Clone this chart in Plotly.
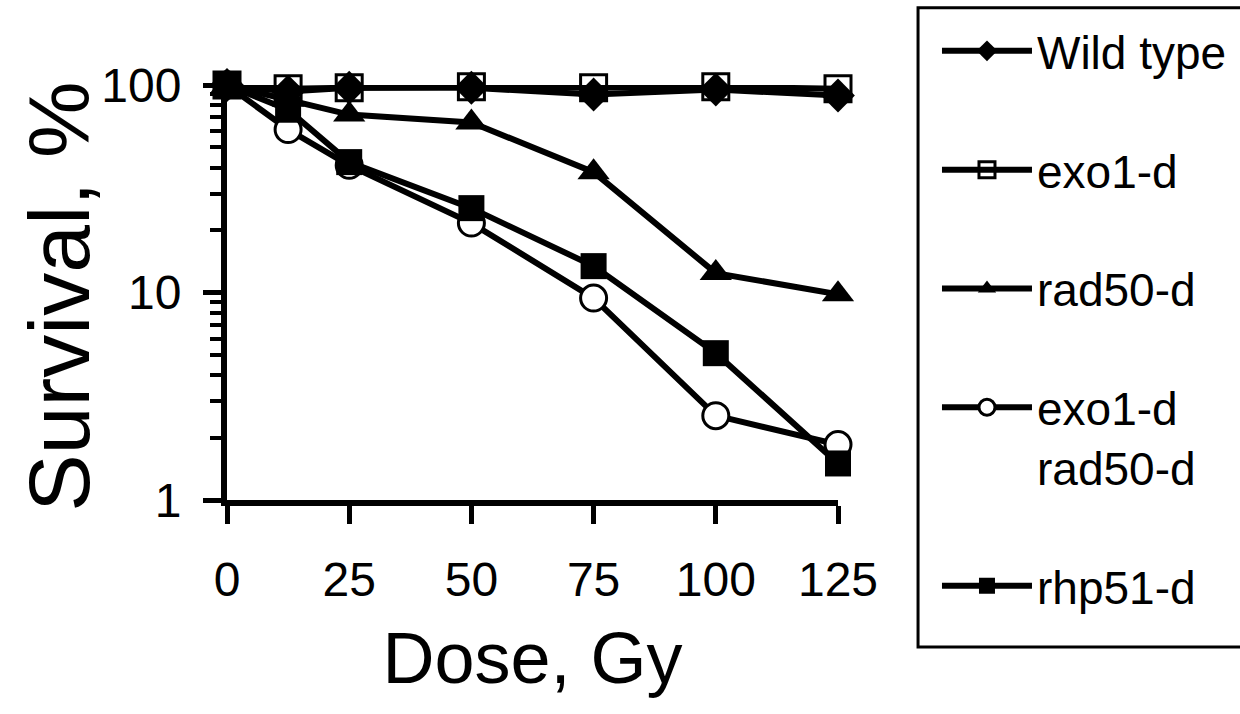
import plotly.graph_objects as go

dose = [0, 12.5, 25, 50, 75, 100, 125]
wild_type = [100, 93, 97, 97, 90, 95, 89]
exo1_d = [100, 96, 97, 98, 97, 98, 96]
rad50_d = [100, 85, 72, 66, 38, 12.4, 9.8]
exo1_rad50_d = [100, 61, 41, 21.6, 9.4, 2.55, 1.85]
rhp51_d = [100, 76, 42.5, 25.5, 13.4, 5.1, 1.5]

x_ticks = [0, 25, 50, 75, 100, 125]
y_ticks = [1, 10, 100]
y_tick_text = ["1", "10", "100"]
y_minor_ticks = [2, 3, 4, 5, 6, 7, 8, 9, 20, 30, 40, 50, 60, 70, 80, 90]

FONT = "Liberation Sans, Arial, sans-serif"

series = [
    ("Wild type", wild_type, dict(symbol="diamond", size=26, color="black", line=dict(color="black", width=0))),
    ("exo1-d", exo1_d, dict(symbol="square-open", size=26, color="black", line=dict(color="black", width=3))),
    ("rad50-d", rad50_d, dict(symbol="triangle-up", size=28, color="black", line=dict(color="black", width=0))),
    ("exo1-d<br>rad50-d", exo1_rad50_d, dict(symbol="circle", size=26, color="white", line=dict(color="black", width=3))),
    ("rhp51-d", rhp51_d, dict(symbol="square", size=26, color="black", line=dict(color="black", width=0))),
]

fig = go.Figure()
for i, (name, vals, mk) in enumerate(series):
    fig.add_trace(go.Scatter(
        x=dose, y=vals, name=name, mode="lines+markers",
        line=dict(color="black", width=6),
        marker=mk, cliponaxis=False, legendgroup=str(i),
    ))

fig.update_layout(
    width=1240, height=714,
    margin=dict(l=227, r=402, t=85, b=214, autoexpand=False),
    paper_bgcolor="white", plot_bgcolor="white",
    font=dict(family=FONT, color="black"),
    showlegend=True,
    legend=dict(
        x=1.162, xanchor="left", y=1.17, yanchor="top",
        font=dict(size=46, family=FONT, color="black"),
        bgcolor="rgba(0,0,0,0)", borderwidth=0,
        tracegroupgap=56, valign="top", itemwidth=90,
        maxheight=1000,
    ),
    shapes=[dict(
        type="rect", xref="paper", yref="paper",
        x0=1.131, x1=1.70, y0=-0.354, y1=1.186,
        line=dict(color="black", width=3), fillcolor="rgba(0,0,0,0)", layer="below",
    )],
    annotations=[dict(
        text="Survival, %", textangle=-90, xref="paper", yref="paper",
        x=-0.275, y=0.49, xanchor="center", yanchor="middle", showarrow=False,
        font=dict(size=86, family=FONT, color="black"),
    )],
)

fig.update_xaxes(
    range=[0, 125], tickvals=x_ticks, ticks="outside", ticklen=18, tickwidth=5,
    tickcolor="black", showline=True, linewidth=6, linecolor="black",
    showgrid=False, zeroline=False, tickfont=dict(size=48, family=FONT),
    ticklabelstandoff=14,
    title=dict(text="Dose, Gy", font=dict(size=72, family=FONT), standoff=30),
)
fig.update_yaxes(
    type="log", range=[0, 2], tickvals=y_ticks, ticktext=y_tick_text,
    ticks="outside", ticklen=18, tickwidth=5, tickcolor="black",
    showline=True, linewidth=6, linecolor="black", showgrid=False, zeroline=False,
    tickfont=dict(size=48, family=FONT), ticklabelstandoff=12,
    minor=dict(ticks="outside", ticklen=11, tickwidth=4, tickcolor="black",
               tickvals=y_minor_ticks, showgrid=False),
)

fig.write_html("out.html")
